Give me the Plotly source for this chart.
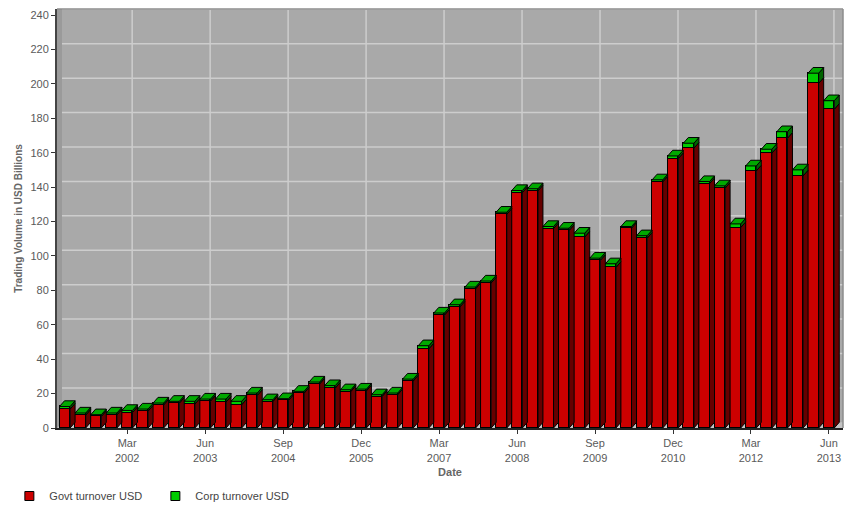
import plotly.graph_objects as go

# ---------------- data ----------------
years = list(range(2001, 2014))
months = ["Mar", "Jun", "Sep", "Dec"]
quarters = [f"{m} {y}" for y in years for m in months][:50]  # Mar 2001 .. Jun 2013

govt = [11.0, 7.5, 6.7, 7.6, 9.0, 9.8, 13.4, 14.4, 13.9, 15.6,
        15.1, 13.5, 18.9, 15.4, 16.0, 20.2, 25.6, 23.2, 21.2, 21.6,
        18.3, 19.3, 27.3, 46.0, 65.6, 70.4, 80.9, 84.3, 124.2, 136.8,
        137.8, 115.9, 114.8, 111.0, 97.4, 93.3, 116.1, 110.3, 143.0, 156.6,
        162.6, 142.0, 139.4, 116.5, 149.4, 159.7, 168.4, 146.5, 200.3, 185.2]
corp = [1.5, 1.2, 1.0, 1.1, 1.2, 1.2, 1.1, 1.1, 1.6, 1.2,
        1.7, 2.0, 1.4, 1.0, 1.0, 1.1, 1.1, 1.4, 1.0, 1.0,
        1.0, 1.0, 1.1, 1.8, 1.2, 1.2, 1.0, 1.1, 1.2, 1.2,
        1.2, 1.2, 1.3, 2.2, 1.3, 2.1, 1.0, 1.4, 1.2, 1.5,
        2.9, 1.2, 1.3, 2.1, 2.9, 2.3, 3.8, 3.5, 5.9, 5.0]
tick_labels = ["Mar 2002", "Jun 2003", "Sep 2004", "Dec 2005", "Mar 2007",
               "Jun 2008", "Sep 2009", "Dec 2010", "Mar 2012", "Jun 2013"]
y_ticks = list(range(0, 241, 20))
series_names = ["Govt turnover USD", "Corp turnover USD"]

# ---------------- style ----------------
RED, RED_SIDE = "#cc0000", "#660000"
GRN, GRN_TOP, GRN_SIDE = "#00cc00", "#00a800", "#006400"
WALL, FLOOR, LWALL, GRID = "#a9a9a9", "#c4c4c4", "#9a9a9a", "#cdcdcd"
TXT = "#5a5a5a"
FONT = "Liberation Sans, Arial, sans-serif"

W = 0.68     # front face width (index units)
DX = 0.32    # depth offset x (index units)
DY = 3.3     # depth offset y (data units)
X0, X1 = -0.5, 49.9
Y1 = 243.5

xs = list(range(len(quarters)))
tot = [g + c for g, c in zip(govt, corp)]

fig = go.Figure()

fig.add_trace(go.Bar(x=xs, y=govt, width=W, name=series_names[0], showlegend=False,
                     marker=dict(color=RED, line=dict(color="black", width=1))))
fig.add_trace(go.Bar(x=xs, y=corp, width=W, name=series_names[1], showlegend=False,
                     marker=dict(color=GRN, line=dict(color="black", width=1))))


def poly_trace(px, py, color):
    return go.Scatter(x=px, y=py, mode="lines", fill="toself", fillcolor=color,
                      line=dict(color="black", width=1), showlegend=False,
                      hoverinfo="skip")


# red side faces
sx, sy = [], []
for x, g in zip(xs, govt):
    r = x + W / 2
    sx += [r, r + DX, r + DX, r, r, None]
    sy += [0, DY, g + DY, g, 0, None]
fig.add_trace(poly_trace(sx, sy, RED_SIDE))

# green side faces
sx, sy = [], []
for x, g, t in zip(xs, govt, tot):
    r = x + W / 2
    sx += [r, r + DX, r + DX, r, r, None]
    sy += [g, g + DY, t + DY, t, g, None]
fig.add_trace(poly_trace(sx, sy, GRN_SIDE))

# green top faces
sx, sy = [], []
for x, t in zip(xs, tot):
    l, r = x - W / 2, x + W / 2
    sx += [l, r, r + DX, l + DX, l, None]
    sy += [t, t, t + DY, t + DY, t, None]
fig.add_trace(poly_trace(sx, sy, GRN_TOP))

# legend entries (small square swatches)
for name, col in zip(series_names, [RED, GRN]):
    fig.add_trace(go.Scatter(x=[None], y=[None], mode="markers", name=name,
                             marker=dict(symbol="square", size=9, color=col,
                                         line=dict(color="black", width=1))))

shapes = []
# floor
shapes.append(dict(type="path", xref="x", yref="y", layer="below",
                   path=f"M{X0},0 L{X1},0 L{X1},{DY} L{X0 + DX},{DY} Z",
                   fillcolor=FLOOR, line=dict(width=0)))
# left side wall
shapes.append(dict(type="path", xref="x", yref="y", layer="below",
                   path=f"M{X0},0 L{X0 + DX},{DY} L{X0 + DX},{Y1} L{X0},{Y1} Z",
                   fillcolor=LWALL, line=dict(width=0)))
# back-wall gridlines
for v in y_ticks[1:]:
    shapes.append(dict(type="line", xref="x", yref="y", layer="below",
                       x0=X0 + DX, x1=X1, y0=v + DY, y1=v + DY,
                       line=dict(color=GRID, width=1.5)))
tick_idx = [quarters.index(t) for t in tick_labels]
for i in tick_idx:
    shapes.append(dict(type="line", xref="x", yref="y", layer="below",
                       x0=i + DX, x1=i + DX, y0=DY, y1=Y1,
                       line=dict(color=GRID, width=1.5)))
# top and right border of wall
shapes.append(dict(type="line", xref="paper", yref="paper", x0=0, x1=1, y0=1, y1=1,
                   line=dict(color="#8c8c8c", width=1.5)))
shapes.append(dict(type="line", xref="paper", yref="paper", x0=1, x1=1, y0=0, y1=1,
                   line=dict(color="#8c8c8c", width=1.5)))

fig.update_layout(
    width=851, height=508,
    margin=dict(l=57, r=8, t=9, b=80, autoexpand=False),
    paper_bgcolor="white", plot_bgcolor=WALL,
    barmode="stack", bargap=0,
    font=dict(family=FONT, size=11, color=TXT),
    shapes=shapes,
    showlegend=True,
    legend=dict(orientation="h", xref="container", yref="container",
                x=0.011, y=0.0236, xanchor="left", yanchor="middle",
                font=dict(size=11, color="#444"),
                entrywidth=101, entrywidthmode="pixels",
                traceorder="normal"),
    xaxis=dict(range=[X0, X1], showgrid=False, zeroline=False,
               tickmode="array", tickvals=tick_idx,
               ticktext=[t.replace(" ", "<br>") for t in tick_labels],
               ticks="outside", ticklen=4, tickcolor="#333", tickwidth=1,
               showline=True, linecolor="#222", linewidth=2,
               title=dict(text="<b>Date</b>", font=dict(size=11, color="#666"),
                          standoff=6),
               tickfont=dict(size=11, color=TXT)),
    yaxis=dict(range=[0, Y1], showgrid=False, zeroline=False,
               tickmode="array", tickvals=y_ticks,
               ticks="outside", ticklen=4, tickcolor="#333", tickwidth=1,
               showline=True, linecolor="#444", linewidth=2,
               title=dict(text="<b>Trading Volume in USD Billions</b>",
                          font=dict(size=10, color="#666"), standoff=6),
               tickfont=dict(size=11, color=TXT)),
)

fig.write_html("out.html")
